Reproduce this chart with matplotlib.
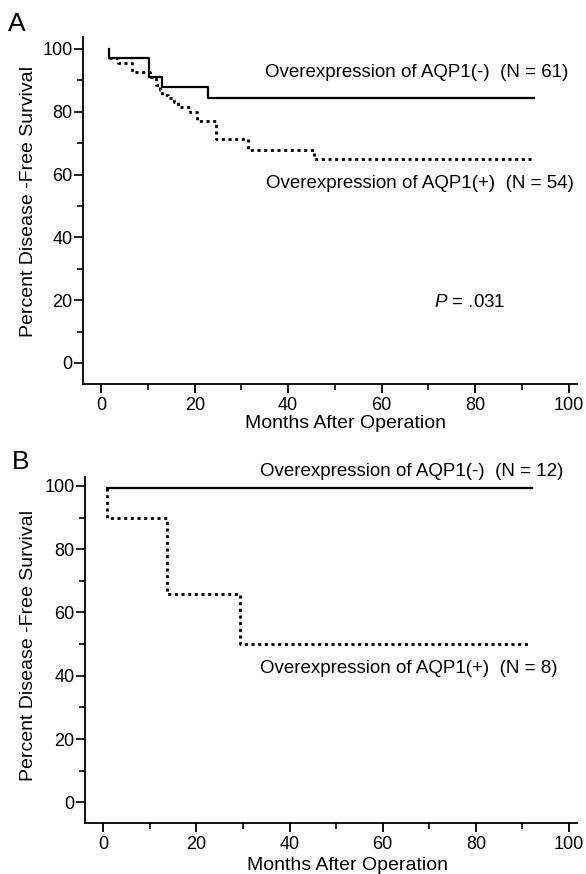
import matplotlib
matplotlib.use("Agg")
import matplotlib.pyplot as plt
from matplotlib.ticker import MultipleLocator

plt.rcParams['font.family'] = ['Liberation Sans', 'DejaVu Sans']
plt.rcParams['mathtext.fontset'] = 'custom'
plt.rcParams['mathtext.it'] = 'Liberation Sans:italic'
plt.rcParams['mathtext.rm'] = 'Liberation Sans'

# Panel A: months / percent disease-free survival (step curves)
a_neg_months = [1.6, 1.6, 10.3, 13.1, 22.8, 92.5]
a_neg_surv = [100, 97.2, 91.1, 87.8, 84.3, 84.3]
a_pos_months = [1.6, 3.5, 6.5, 10.5, 11.8, 12.5, 13.0, 14.3, 15.5, 16.5,
                19.0, 20.5, 24.6, 31.4, 45.6, 92.5]
a_pos_surv = [97.0, 95.5, 92.8, 91.0, 88.5, 87.0, 85.4, 84.4, 83.0, 81.6,
              80.0, 76.9, 71.3, 67.8, 64.9, 64.9]

# Panel B
b_neg_months = [0.8, 92.0]
b_neg_surv = [99.3, 99.3]
b_pos_months = [0.8, 0.8, 13.7, 29.4, 91.8]
b_pos_surv = [99.3, 90.0, 65.8, 50.2, 50.2]

label_neg_a = "Overexpression of AQP1(-)  (N = 61)"
label_pos_a = "Overexpression of AQP1(+)  (N = 54)"
label_neg_b = "Overexpression of AQP1(-)  (N = 12)"
label_pos_b = "Overexpression of AQP1(+)  (N = 8)"

W, H = 586, 874
fig = plt.figure(figsize=(W / 100, H / 100), dpi=100)


def px_axes(left, top, right, bottom):
    return fig.add_axes([left / W, 1 - bottom / H, (right - left) / W, (bottom - top) / H])


def style(ax, xlim, ylim):
    ax.set_xlim(*xlim)
    ax.set_ylim(*ylim)
    for s in ['top', 'right']:
        ax.spines[s].set_visible(False)
    for s in ['left', 'bottom']:
        ax.spines[s].set_linewidth(1.3)
    ax.xaxis.set_major_locator(MultipleLocator(20))
    ax.xaxis.set_minor_locator(MultipleLocator(10))
    ax.yaxis.set_major_locator(MultipleLocator(20))
    ax.yaxis.set_minor_locator(MultipleLocator(10))
    ax.tick_params(axis='x', which='major', length=6.5, width=1.3, pad=3, labelsize=13)
    ax.tick_params(axis='x', which='minor', length=4.5, width=1.2)
    ax.tick_params(axis='y', which='major', length=6.5, width=1.2, pad=1, labelsize=13)
    ax.tick_params(axis='y', which='minor', length=4.5, width=1.2)
    ax.set_xlabel("Months After Operation", fontsize=14)
    ax.set_ylabel("Percent Disease -Free Survival", fontsize=14)


dot = (0, (1.1, 1.3))
fs = 13.5

# ---- A ----
axA = px_axes(83, 37, 577, 384)
style(axA, (-3.9, 101.8), (-6.7, 103.8))
axA.step(a_neg_months, a_neg_surv, where='post', color='black', lw=1.6)
axA.step(a_pos_months, a_pos_surv, where='post', color='black', lw=2.0, linestyle=dot)
axA.text(35.1, 92.4, label_neg_a, fontsize=fs, ha='left', va='center')
axA.text(35.3, 57.3, label_pos_a, fontsize=fs, ha='left', va='center')
axA.text(71.2, 19.4, r'$\mathit{P}$ = .031', fontsize=fs, ha='left', va='center')
axA.xaxis.set_label_coords(0.532, -0.089)
axA.yaxis.set_label_coords(-0.093, 0.527)
fig.text(8 / W, 1 - 24 / H, "A", fontsize=19, ha='left', va='center')

# ---- B ----
axB = px_axes(85, 477, 577, 823)
style(axB, (-3.9, 101.7), (-6.5, 102.8))
axB.step(b_neg_months, b_neg_surv, where='post', color='black', lw=1.6)
axB.step(b_pos_months, b_pos_surv, where='post', color='black', lw=2.0, linestyle=dot)
axB.text(33.7, 104.4, label_neg_b, fontsize=fs, ha='left', va='center', clip_on=False)
axB.text(33.7, 42.4, label_pos_b, fontsize=fs, ha='left', va='center')
axB.xaxis.set_label_coords(0.534, -0.097)
axB.yaxis.set_label_coords(-0.097, 0.514)
fig.text(12 / W, 1 - 462 / H, "B", fontsize=19, ha='left', va='center')

fig.savefig("out.png", dpi=100)
